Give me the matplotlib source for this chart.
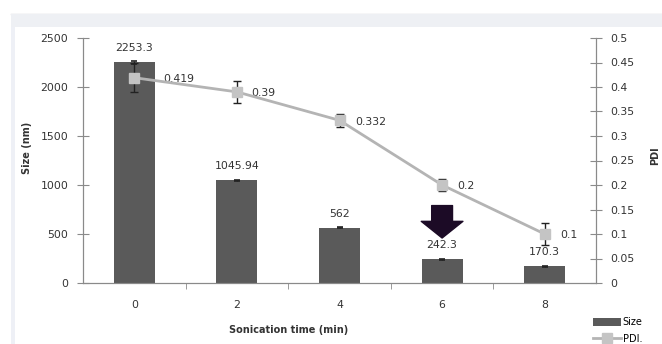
import numpy as np
import matplotlib.pyplot as plt
from matplotlib.patches import Rectangle

# Sonication time vs particle size and PDI
times = ['0', '2', '4', '6', '8']
size_nm = [2253.3, 1045.94, 562, 242.3, 170.3]
size_err = [15, 8, 5, 4, 5]
pdi = [0.419, 0.39, 0.332, 0.2, 0.1]
pdi_err = [0.03, 0.022, 0.013, 0.013, 0.023]

W, H = 662, 344
fig = plt.figure(figsize=(W / 100, H / 100), dpi=100)
fig.patch.set_facecolor('white')

# light page frame behind the chart
fig.patches.append(Rectangle((11 / W, 0), 4 / W, 1 - 14 / H, transform=fig.transFigure,
                             facecolor='#eef0f6', edgecolor='none', zorder=0))
fig.patches.append(Rectangle((11 / W, 1 - 27 / H), 1, 13 / H, transform=fig.transFigure,
                             facecolor='#eef0f4', edgecolor='none', zorder=0))
fig.lines.append(plt.Line2D([11 / W, 1], [1 - 13.5 / H, 1 - 13.5 / H], transform=fig.transFigure,
                            color='#d4d6da', lw=1, zorder=0))

ax = fig.add_axes([83 / W, 1 - 283 / H, 513 / W, 245 / H])
ax.patch.set_alpha(0)
x = np.arange(len(times))
grey = '#8a8a8a'

bars = ax.bar(x, size_nm, width=0.4, color='#5a5a5a', zorder=2, label='Size')
ax.errorbar(x, size_nm, yerr=size_err, fmt='none', ecolor='#222222', elinewidth=1,
            capsize=2.5, capthick=1.2, zorder=3)
for xi, v in zip(x, size_nm):
    ax.annotate(f'{v:g}', (xi, v), xytext=(0, 6.5), textcoords='offset points',
                ha='center', va='bottom', fontsize=7.8, color='#333333')

ax.set_xlim(-0.5, len(times) - 0.5)
ax.set_ylim(0, 2500)
ax.set_yticks(np.arange(0, 2501, 500))
ax.set_xticks(x)
ax.set_xticklabels(times)
ax.set_xticks(np.arange(0.5, len(times) - 0.5, 1), minor=True)
ax.tick_params(axis='x', which='major', length=0, pad=12.5, labelsize=7.8, labelcolor='#333333')
ax.tick_params(axis='x', which='minor', direction='out', length=4, color=grey)
ax.tick_params(axis='y', direction='inout', length=8, color=grey, pad=6.5,
               labelsize=7.8, labelcolor='#333333')
for s in ['left', 'bottom', 'right']:
    ax.spines[s].set_color(grey)
ax.spines['top'].set_visible(False)
ax.set_ylabel('Size (nm)', fontsize=7, fontweight='bold', color='#333333')
ax.yaxis.set_label_coords(-0.1, 0.55)
ax.set_xlabel('Sonication time (min)', fontsize=7, fontweight='bold', color='#333333')
ax.xaxis.set_label_coords(0.4, -0.17)

# arrow pointing at the chosen sonication time
ax.annotate('', xy=(3, 459), xytext=(3, 790),
            arrowprops=dict(arrowstyle='simple,tail_width=1.5,head_width=3.0,head_length=1.2',
                            facecolor='#1c0b26', edgecolor='#1c0b26', shrinkA=0, shrinkB=0,
                            mutation_scale=10), zorder=5)

ax2 = ax.twinx()
ax2.set_ylim(0, 0.5)
ax2.set_yticks(np.arange(0, 0.51, 0.05))
ax2.set_yticklabels([f'{v:g}' for v in np.round(np.arange(0, 0.51, 0.05), 2)])
ax2.errorbar(x, pdi, yerr=pdi_err, fmt='none', ecolor='#222222', elinewidth=1,
             capsize=3, capthick=1, zorder=3)
line, = ax2.plot(x, pdi, color='#b4b4b4', lw=2, marker='s', markersize=7.5,
                 markerfacecolor='#c4c4c4', markeredgecolor='#c4c4c4', zorder=4, label='PDI.')
label_dx = [21, 10, 11, 11, 11]
for xi, v, dx in zip(x, pdi, label_dx):
    ax2.annotate(f'{v:g}', (xi, v), xytext=(dx, -1), textcoords='offset points',
                 ha='left', va='center', fontsize=7.8, color='#333333')
ax2.tick_params(axis='y', direction='inout', length=8, color=grey, pad=6.5,
                labelsize=7.8, labelcolor='#333333')
for s in ['left', 'bottom', 'right']:
    ax2.spines[s].set_color(grey)
ax2.spines['top'].set_visible(False)
ax2.set_ylabel('PDI', fontsize=7, fontweight='bold', color='#333333')
ax2.yaxis.set_label_coords(1.105, 0.52)

fig.legend([bars, line], ['Size', 'PDI.'], loc='lower left', bbox_to_anchor=(591 / W, -2 / H),
           frameon=False, fontsize=7, handlelength=2.9, handleheight=0.95,
           handletextpad=0.15, labelspacing=0.7, borderpad=0.2, borderaxespad=0)

fig.savefig('out.png', dpi=100)
